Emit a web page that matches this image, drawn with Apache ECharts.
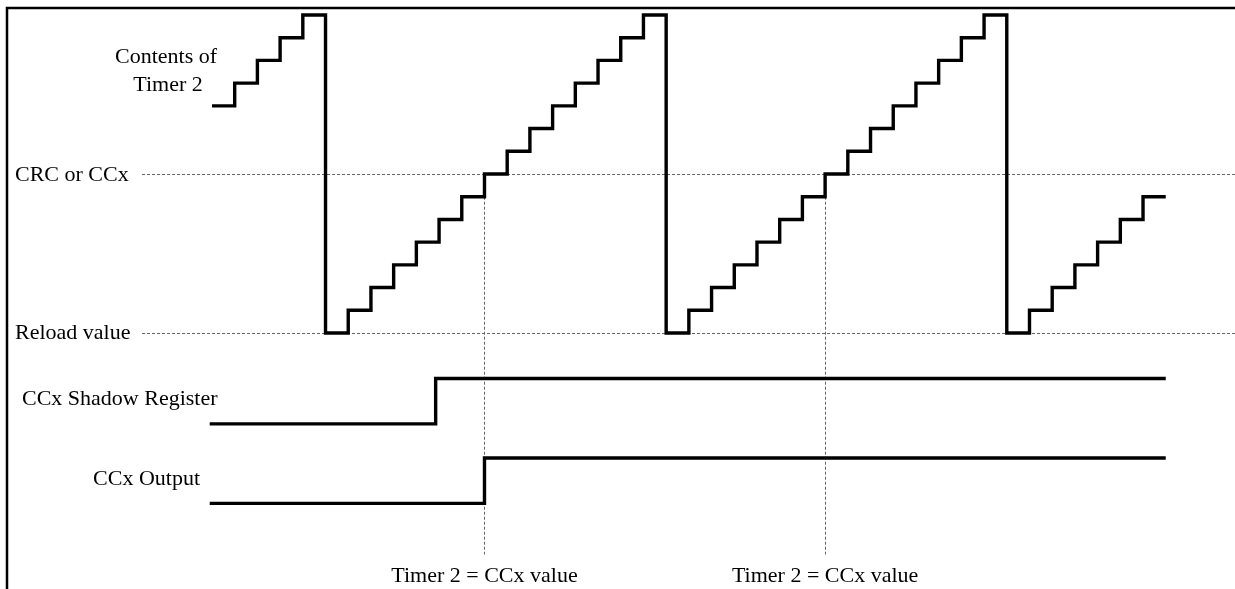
<!DOCTYPE html>
<html><head><meta charset="utf-8">
<script src="https://cdn.jsdelivr.net/npm/echarts@6/dist/echarts.min.js"></script>
<style>html,body{margin:0;padding:0;background:#fff}#c{width:1235px;height:589px}</style>
</head><body><div id="c"></div>
<script>
// Timer 2 contents, one level per count period (level 0 = reload value, level 7 = CRC/CCx)
const timerLevels = [10,11,12,13,14,
  0,1,2,3,4,5,6,7,8,9,10,11,12,13,14,
  0,1,2,3,4,5,6,7,8,9,10,11,12,13,14,
  0,1,2,3,4,5,6];
const shadowRegister = [[-0.1,-4],[9.85,-4],[9.85,-2],[42,-2]];
const ccxOutput = [[-0.1,-7.5],[12,-7.5],[12,-5.5],[42,-5.5]];
const crcLevel = 7;
const reloadLevel = 0;
const matchTimes = [12, 27];
const matchLineBottom = -9.75;
const levelLabels = ['CRC or CCx', 'Reload value'];
const signalLabels = ['CCx Shadow Register', 'CCx Output'];
const titleLines = ['Contents of', 'Timer 2'];
const bottomLabel = 'Timer 2 = CCx value';

const X_MIN = -9.335, X_MAX = 45.05, Y_MIN = -11.27, Y_MAX = 14.66;
const timerData = timerLevels.map((v, i) => [i, v]);
timerData.push([timerLevels.length, timerLevels[timerLevels.length - 1]]);

const chart = echarts.init(document.getElementById('c'), null, {renderer: 'canvas'});
const font = '"Liberation Serif", "Times New Roman", serif';
const dashStyle = {color: '#666', width: 1, type: [3, 2]};
const sigStyle = {color: '#000', width: 3.4, join: 'miter', cap: 'butt'};

const markLines = [
  [{coord: [-3.08, crcLevel]}, {coord: [X_MAX, crcLevel]}],
  [{coord: [-3.08, reloadLevel]}, {coord: [X_MAX, reloadLevel]}]
];
matchTimes.forEach(t => {
  markLines.push([{coord: [t, crcLevel - 1]}, {coord: [t, matchLineBottom]}]);
});

chart.setOption({
  animation: false,
  grid: {left: 0, right: 0, top: 0, bottom: 0},
  xAxis: {type: 'value', min: X_MIN, max: X_MAX, show: false},
  yAxis: {type: 'value', min: Y_MIN, max: Y_MAX, show: false},
  series: [
    {
      type: 'line', data: timerData, step: 'end', symbol: 'none', silent: true,
      lineStyle: sigStyle, z: 5,
      markLine: {
        silent: true, symbol: ['none', 'none'], label: {show: false},
        lineStyle: dashStyle, emphasis: {disabled: true}, data: markLines
      }
    },
    {type: 'line', data: shadowRegister, symbol: 'none', silent: true, lineStyle: sigStyle, z: 5},
    {type: 'line', data: ccxOutput, symbol: 'none', silent: true, lineStyle: sigStyle, z: 5}
  ]
});

const px = (x, y) => chart.convertToPixel({gridIndex: 0}, [x, y]);
const txt = (text, x, y, align) => ({
  type: 'text', x: x, y: y, silent: true,
  style: {text: text, font: '22px ' + font, fill: '#000', textAlign: align, textVerticalAlign: 'middle'}
});

const graphics = [
  {type: 'polyline', silent: true, shape: {points: [[7, 589], [7, 8], [1235, 8]]},
   style: {stroke: '#000', lineWidth: 2.5, fill: null}},
  txt(titleLines[0], 166, 57, 'center'),
  txt(titleLines[1], 168, 85, 'center'),
  txt(levelLabels[0], 15, px(0, crcLevel)[1] + 1, 'left'),
  txt(levelLabels[1], 15, px(0, reloadLevel)[1], 'left'),
  txt(signalLabels[0], 22, 399, 'left'),
  txt(signalLabels[1], 200, 479, 'right')
];
matchTimes.forEach(t => {
  graphics.push(txt(bottomLabel, px(t, 0)[0], 576, 'center'));
});
chart.setOption({graphic: graphics});
</script>
</body></html>
